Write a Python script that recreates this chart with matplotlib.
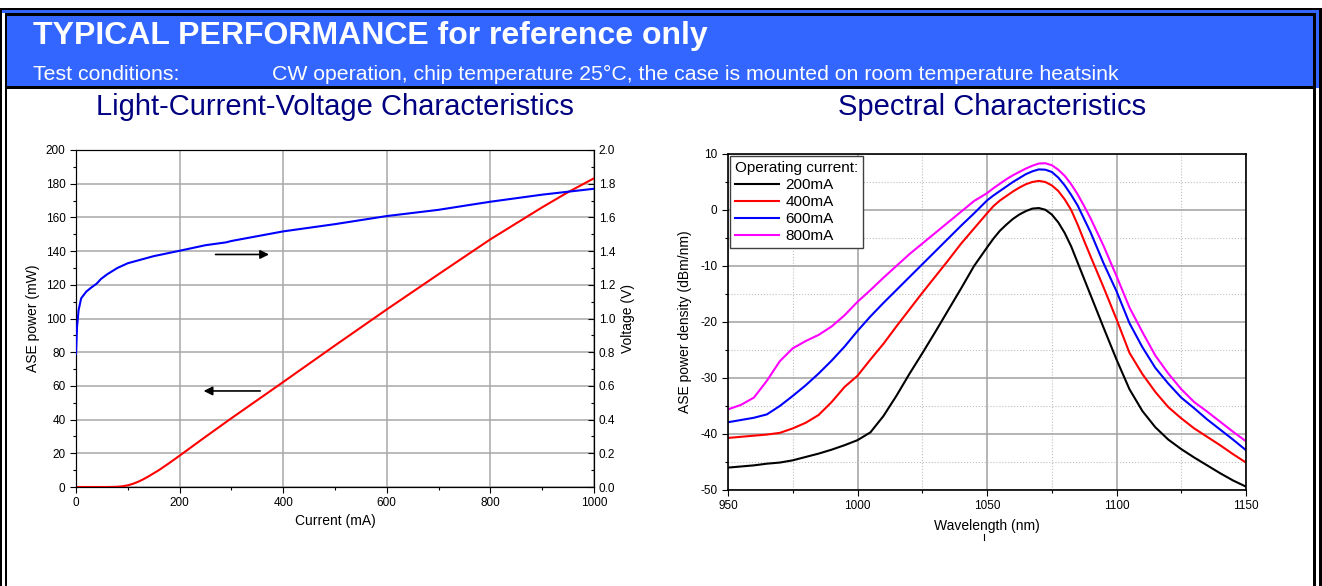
import matplotlib
matplotlib.use('Agg')
import matplotlib.pyplot as plt
from matplotlib.patches import Rectangle
from matplotlib.ticker import MultipleLocator

plt.rcParams['font.family'] = ['Liberation Sans', 'DejaVu Sans']
plt.rcParams['axes.unicode_minus'] = False

# LIV data
current_p = [0, 50, 60, 70, 80, 90, 100, 110, 120, 130, 140, 160, 180, 200, 250, 300, 400, 500, 600, 700, 800, 900, 950, 1000]
power = [0, 0, 0, 0.05, 0.15, 0.45, 1.0, 1.9, 3.1, 4.6, 6.3, 10.0, 14.2, 18.6, 29.8, 40.8, 62.3, 84.0, 105.4, 126.3, 147.0, 166.0, 175.0, 183.2]

current_v = [0, 2, 5, 10, 20, 30, 40, 48, 60, 80, 100, 150, 200, 250, 290, 300, 400, 500, 600, 700, 760, 800, 900, 1000]
voltage = [0.79, 0.95, 1.05, 1.12, 1.16, 1.185, 1.207, 1.234, 1.262, 1.30, 1.328, 1.37, 1.402, 1.435, 1.452, 1.46, 1.517, 1.56, 1.608, 1.645, 1.674, 1.693, 1.735, 1.77]

# spectral data
wavelength = [950, 955, 960, 965, 970, 975, 980, 985, 990, 995,
              1000, 1005, 1010, 1015, 1020, 1025, 1030, 1035, 1040, 1045,
              1050, 1052.5, 1055, 1057.5, 1060, 1062.5, 1065, 1067.5, 1070, 1072.5,
              1075, 1077.5, 1080, 1082.5, 1085, 1087.5, 1090, 1095,
              1100, 1105, 1110, 1115, 1120, 1125, 1130, 1135, 1140, 1145, 1150]
spec_200 = [-46.0, -45.8, -45.6, -45.3, -45.1, -44.7, -44.1, -43.5, -42.8, -42.0,
            -41.1, -39.7, -36.8, -33.2, -29.3, -25.6, -21.8, -17.9, -14.0, -10.0,
            -6.7, -5.1, -3.7, -2.6, -1.6, -0.8, -0.2, 0.25, 0.35, 0.05,
            -0.8, -2.2, -4.1, -6.5, -9.4, -12.3, -15.2, -21.0,
            -26.7, -32.0, -35.9, -38.8, -41.0, -42.7, -44.2, -45.6, -47.0, -48.3, -49.4]
spec_400 = [-40.7, -40.5, -40.3, -40.1, -39.8, -39.0, -38.0, -36.6, -34.3, -31.6,
            -29.6, -26.7, -23.9, -20.8, -17.8, -14.8, -11.9, -9.0, -6.0, -3.3,
            -0.6, 0.7, 1.7, 2.5, 3.3, 4.0, 4.6, 5.0, 5.2, 5.0,
            4.4, 3.4, 1.9, 0.0, -2.6, -5.5, -8.3, -13.8,
            -19.5, -25.5, -29.3, -32.5, -35.2, -37.2, -39.0, -40.5, -42.0, -43.6, -45.1]
spec_600 = [-37.9, -37.5, -37.1, -36.5, -35.0, -33.2, -31.3, -29.2, -26.9, -24.4,
            -21.6, -19.0, -16.6, -14.3, -12.0, -9.7, -7.4, -5.1, -2.8, -0.6,
            1.7, 2.6, 3.4, 4.2, 5.0, 5.7, 6.4, 6.9, 7.25, 7.2,
            6.8, 5.8, 4.4, 2.7, 0.8, -1.6, -4.0, -9.5,
            -14.5, -20.2, -24.5, -28.2, -31.0, -33.5, -35.4, -37.4, -39.2, -41.0, -42.9]
spec_800 = [-35.6, -34.8, -33.5, -30.5, -27.0, -24.7, -23.4, -22.3, -20.8, -18.8,
            -16.4, -14.3, -12.1, -10.0, -7.9, -6.0, -4.1, -2.2, -0.3, 1.6,
            3.0, 3.9, 4.7, 5.5, 6.2, 6.8, 7.4, 7.9, 8.3, 8.35,
            8.0, 7.2, 6.1, 4.6, 2.8, 0.7, -1.5, -6.4,
            -11.8, -17.4, -21.8, -26.0, -29.2, -32.0, -34.3, -36.0, -37.8, -39.6, -41.3]
spec_labels = ['200mA', '400mA', '600mA', '800mA']
spec_colors = ['black', '#ff0000', '#0000ff', '#ff00ff']

W, H = 1322, 586
fig = plt.figure(figsize=(W / 100, H / 100), dpi=100)

# page frame and header band, drawn in pixel units
bg = fig.add_axes([0, 0, 1, 1], zorder=-1)
bg.set_xlim(0, W)
bg.set_ylim(H, 0)
bg.axis('off')
blue = '#3366ff'
for (x0, y0, w, h, c) in [
        (2, 10, 1317, 3, blue), (1316, 10, 3, 78, blue),
        (0, 8, 1322, 2, 'black'), (0, 8, 2, 578, 'black'), (1319, 8, 3, 578, 'black'),
        (5, 13, 1311, 3, 'black'), (5, 13, 2, 573, 'black'), (1313, 13, 3, 573, 'black'),
        (7, 16, 1306, 70, blue), (5, 86, 1311, 3, 'black')]:
    bg.add_patch(Rectangle((x0, y0), w, h, facecolor=c, edgecolor='none'))

bg.text(33, 36, 'TYPICAL PERFORMANCE for reference only', color='white',
        fontsize=23, fontweight='bold', va='center', ha='left')
bg.text(33, 74, 'Test conditions:', color='white', fontsize=15.3, va='center', ha='left')
bg.text(272, 74, 'CW operation, chip temperature 25\u00b0C, the case is mounted on room temperature heatsink',
        color='white', fontsize=15.3, va='center', ha='left')
bg.text(335, 107, 'Light-Current-Voltage Characteristics', color='#000080',
        fontsize=21, va='center', ha='center')
bg.text(992, 107, 'Spectral Characteristics', color='#000080',
        fontsize=21, va='center', ha='center')
bg.plot([984, 984], [534, 540], color='black', lw=0.8)

# ---- left: L-I-V ----
ax1 = fig.add_axes([76 / W, 1 - 487 / H, 518 / W, 337 / H])
ax1.plot(current_p, power, color='#ff0000', lw=1.5, zorder=3)
ax1.set_xlim(0, 1000)
ax1.set_ylim(0, 200)
ax1.xaxis.set_major_locator(MultipleLocator(200))
ax1.xaxis.set_minor_locator(MultipleLocator(100))
ax1.yaxis.set_major_locator(MultipleLocator(20))
ax1.yaxis.set_minor_locator(MultipleLocator(10))
ax1.grid(True, which='major', color='#a8a8a8', lw=1.1)
ax1.set_axisbelow(True)
ax1.tick_params(which='major', length=4, labelsize=8.5, width=0.8)
ax1.tick_params(which='minor', length=2.5, width=0.8)
ax1.set_xlabel('Current (mA)', fontsize=10, labelpad=3)
ax1.set_ylabel('ASE power (mW)', fontsize=10, labelpad=4)

ax2 = ax1.twinx()
ax2.plot(current_v, voltage, color='#0000ff', lw=1.5, zorder=3)
ax2.set_ylim(0, 2.0)
ax2.yaxis.set_major_locator(MultipleLocator(0.2))
ax2.yaxis.set_minor_locator(MultipleLocator(0.1))
ax2.yaxis.set_major_formatter(plt.FormatStrFormatter('%.1f'))
ax2.tick_params(which='major', direction='in', length=4, labelsize=8.5, width=0.8)
ax2.tick_params(which='minor', direction='in', length=2.5, width=0.8)
ax2.set_ylabel('Voltage (V)', fontsize=10, labelpad=4)

ax1.annotate('', xy=(378, 138), xytext=(264, 138),
             arrowprops=dict(arrowstyle='-|>', color='black', lw=1.2, mutation_scale=13))
ax1.annotate('', xy=(241, 57), xytext=(361, 57),
             arrowprops=dict(arrowstyle='-|>', color='black', lw=1.2, mutation_scale=13))

# ---- right: spectra ----
ax3 = fig.add_axes([728 / W, 1 - 490 / H, 518 / W, 336 / H])
for vals, lab, col in zip([spec_200, spec_400, spec_600, spec_800], spec_labels, spec_colors):
    ax3.plot(wavelength, vals, color=col, lw=1.5, label=lab)
ax3.set_xlim(950, 1150)
ax3.set_ylim(-50, 10)
ax3.xaxis.set_major_locator(MultipleLocator(50))
ax3.xaxis.set_minor_locator(MultipleLocator(25))
ax3.yaxis.set_major_locator(MultipleLocator(10))
ax3.yaxis.set_minor_locator(MultipleLocator(5))
ax3.grid(True, which='major', color='#a0a0a0', lw=1.1)
ax3.grid(True, which='minor', color='#c0c0c0', lw=0.8, ls=':')
ax3.set_axisbelow(True)
ax3.tick_params(which='major', length=4, labelsize=8.5, width=0.8)
ax3.tick_params(which='minor', length=2.5, width=0.8)
for s in ax3.spines.values():
    s.set_linewidth(1.2)
ax3.set_xlabel('Wavelength (nm)', fontsize=10, labelpad=5)
ax3.set_ylabel('ASE power density (dBm/nm)', fontsize=10, labelpad=6)
leg = ax3.legend(title='Operating current:', loc='upper left', fontsize=11,
                 title_fontsize=11, frameon=True, fancybox=False, handlelength=2.9,
                 borderaxespad=0.15, borderpad=0.3, labelspacing=0.2, handletextpad=0.4)
leg._legend_box.align = 'left'
leg.get_frame().set_edgecolor('#404040')
leg.get_frame().set_linewidth(1.0)
leg.get_frame().set_alpha(1)

fig.savefig('out.png', dpi=100)
